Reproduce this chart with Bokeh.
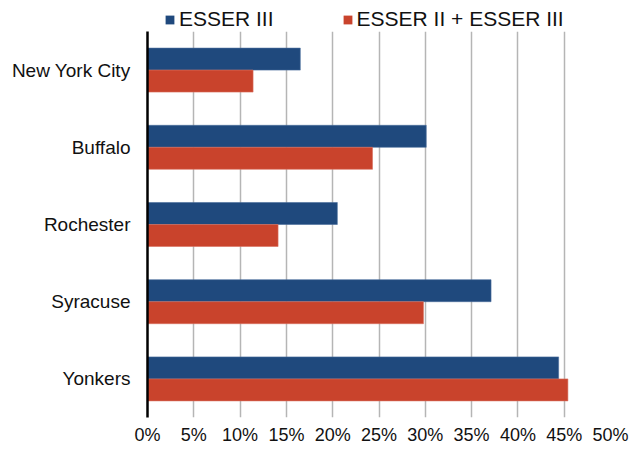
from bokeh.plotting import figure
from bokeh.layouts import column
from bokeh.models import (ColumnDataSource, Range1d, FactorRange, FixedTicker,
                          NumeralTickFormatter, Legend, LegendItem)
from bokeh.transform import dodge
from bokeh.embed import file_html
from bokeh.resources import INLINE

cities = ["New York City", "Buffalo", "Rochester", "Syracuse", "Yonkers"]
esser3 = [0.165, 0.301, 0.205, 0.371, 0.444]
esser23 = [0.114, 0.243, 0.141, 0.298, 0.454]
series_names = ["ESSER III", "ESSER II + ESSER III"]
x_ticks = [0.0, 0.05, 0.10, 0.15, 0.20, 0.25, 0.30, 0.35, 0.40, 0.45, 0.50]

BLUE = "#1f497d"
RED = "#c9432c"
FONT = "Liberation Sans"

src = ColumnDataSource(dict(city=cities, e3=esser3, e23=esser23))

p = figure(width=630, height=418, output_backend="svg", toolbar_location=None,
           y_range=FactorRange(*reversed(cities), range_padding=0),
           x_range=Range1d(0, 0.5),
           min_border_left=147, min_border_right=20, min_border_top=0,
           min_border_bottom=32)
p.outline_line_color = None
p.background_fill_color = "white"
p.border_fill_color = "white"

p.hbar(y=dodge("city", 0.1425, range=p.y_range), right="e3", left=0, height=0.285,
       source=src, fill_color=BLUE, line_color="#4a6d9c", line_width=0.6)
p.hbar(y=dodge("city", -0.1425, range=p.y_range), right="e23", left=0, height=0.285,
       source=src, fill_color=RED, line_color="#d8715f", line_width=0.6)

p.ygrid.grid_line_color = None
p.xgrid.ticker = FixedTicker(ticks=x_ticks)
p.xgrid.grid_line_color = "#b5b5b5"
p.xgrid.grid_line_width = 1.5

p.xaxis.ticker = FixedTicker(ticks=x_ticks)
p.xaxis.formatter = NumeralTickFormatter(format="0%")
p.xaxis.axis_line_color = None
p.xaxis.major_tick_line_color = None
p.xaxis.minor_tick_line_color = None
p.xaxis.major_tick_out = 0
p.xaxis.major_label_standoff = 7
p.xaxis.major_label_text_font = FONT
p.xaxis.major_label_text_font_size = "18px"
p.xaxis.major_label_text_color = "#111111"

p.yaxis.axis_line_color = "black"
p.yaxis.axis_line_width = 2.5
p.yaxis.major_tick_line_color = None
p.yaxis.minor_tick_line_color = None
p.yaxis.major_tick_out = 0
p.yaxis.major_label_standoff = 17
p.yaxis.major_label_text_font = FONT
p.yaxis.major_label_text_font_size = "19px"
p.yaxis.major_label_text_color = "#111111"

# legend strip above the chart (its frame is aligned with the chart's frame)
lg = figure(width=630, height=31, output_backend="svg", toolbar_location=None,
            x_range=Range1d(0, 1), y_range=Range1d(0, 1),
            x_axis_type=None, y_axis_type=None,
            min_border_left=147, min_border_right=20, min_border_top=0, min_border_bottom=0)
lg.outline_line_color = None
lg.grid.visible = False
d1 = lg.hbar(y=0.5, right="e3", height=0.1, source=src, fill_color=BLUE,
             line_color=None, visible=False)
d2 = lg.hbar(y=0.5, right="e23", height=0.1, source=src, fill_color=RED,
             line_color=None, visible=False)

legend = Legend(items=[LegendItem(label=series_names[0], renderers=[d1]),
                       LegendItem(label=series_names[1], renderers=[d2])],
                orientation="horizontal", location=(17, 0),
                border_line_color=None, background_fill_alpha=0,
                padding=0, margin=0, spacing=68,
                glyph_width=11, glyph_height=11, label_standoff=4,
                label_text_font=FONT, label_text_font_size="21px",
                label_text_color="#111111")
lg.add_layout(legend, "center")

layout = column(lg, p, spacing=0)
open("out.html", "w").write(file_html(layout, INLINE))
